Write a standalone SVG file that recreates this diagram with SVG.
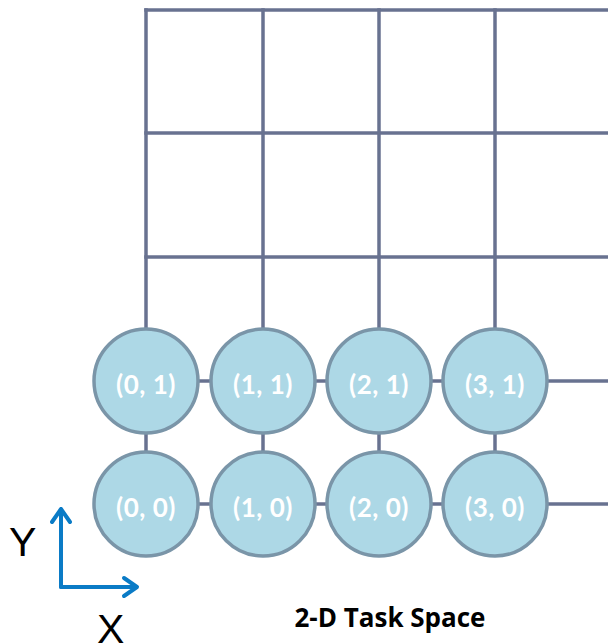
<svg xmlns="http://www.w3.org/2000/svg" width="608" height="644" viewBox="0 0 608 644">
  <style>
    .grid { stroke: #687290; stroke-width: 3.5; fill: none; stroke-linecap: square; }
    .cell circle { fill: #add8e6; stroke: #7a95a8; stroke-width: 3.5; }
    .cell text { fill: #ffffff; font-family: Lato, "Open Sans", sans-serif; font-weight: bold; font-size: 26px; letter-spacing: 0.5px; text-anchor: middle; }
    .axis { stroke: #0a7bc6; stroke-width: 4; fill: none; stroke-linecap: round; stroke-linejoin: round; }
    .axlabel { font-family: "Liberation Sans", Arial, sans-serif; font-size: 41px; fill: #000; }
    .title { font-family: "Open Sans", Lato, sans-serif; font-weight: bold; font-size: 26px; fill: #000; text-anchor: middle; }
  </style>

  <rect width="608" height="644" fill="#ffffff"/>

  <!-- grid lines and links between cells -->
  <g id="connectors" class="grid">
    <line x1="146" y1="10" x2="608" y2="10"/>
    <line x1="146" y1="133" x2="608" y2="133"/>
    <line x1="146" y1="257" x2="608" y2="257"/>
    <line x1="146" y1="10" x2="146" y2="504"/>
    <line x1="263" y1="10" x2="263" y2="504"/>
    <line x1="379" y1="10" x2="379" y2="504"/>
    <line x1="495" y1="10" x2="495" y2="504"/>
    <line x1="146" y1="381" x2="608" y2="381"/>
    <line x1="146" y1="504" x2="608" y2="504"/>
  </g>

  <g id="n01" class="cell"><circle cx="146" cy="381" r="52"/><text x="146" y="394">(0, 1)</text></g>
  <g id="n11" class="cell"><circle cx="263" cy="381" r="52"/><text x="263" y="394">(1, 1)</text></g>
  <g id="n21" class="cell"><circle cx="379" cy="381" r="52"/><text x="379" y="394">(2, 1)</text></g>
  <g id="n31" class="cell"><circle cx="495" cy="381" r="52"/><text x="495" y="394">(3, 1)</text></g>
  <g id="n00" class="cell"><circle cx="146" cy="504" r="52"/><text x="146" y="517">(0, 0)</text></g>
  <g id="n10" class="cell"><circle cx="263" cy="504" r="52"/><text x="263" y="517">(1, 0)</text></g>
  <g id="n20" class="cell"><circle cx="379" cy="504" r="52"/><text x="379" y="517">(2, 0)</text></g>
  <g id="n30" class="cell"><circle cx="495" cy="504" r="52"/><text x="495" y="517">(3, 0)</text></g>

  <!-- axes -->
  <g id="axes">
    <path class="axis" d="M61 587 V509 M52 522 L61 509 L70 522"/>
    <path class="axis" d="M61 587 H137 M124 578 L137 587 L124 596"/>
    <text class="axlabel" x="9" y="556">Y</text>
    <text class="axlabel" x="97" y="643">X</text>
  </g>

  <text class="title" x="390" y="627">2-D Task Space</text>
</svg>
